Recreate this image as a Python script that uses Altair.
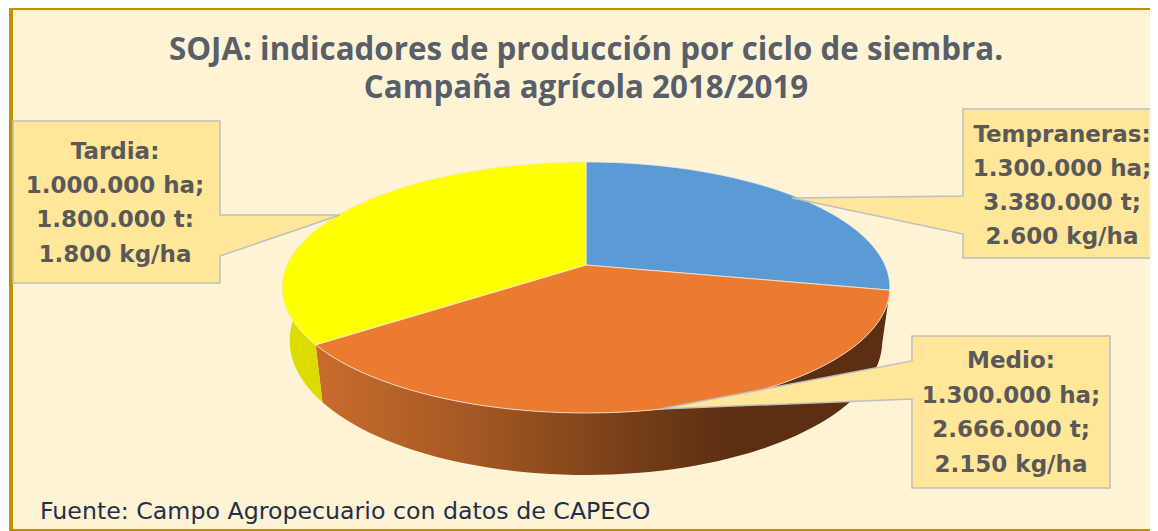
import math
import altair as alt

# Values
categories = ["Tempraneras", "Medio", "Tardia"]
shares = [28.2, 36.8, 35.0]
slice_colors = ["#5B9BD5", "#EB7B31", "#FFFF00"]
title_lines = ["SOJA: indicadores de producción por ciclo de siembra.", "Campaña agrícola 2018/2019"]
label_tardia = ["Tardia:", "1.000.000 ha;", "1.800.000 t:", "1.800 kg/ha"]
label_temprana = ["Tempraneras:", "1.300.000 ha;", "3.380.000 t;", "2.600 kg/ha"]
label_medio = ["Medio:", "1.300.000 ha;", "2.666.000 t;", "2.150 kg/ha"]
source_text = "Fuente: Campo Agropecuario con datos de CAPECO"

W, H = 1142, 523
OX, OY = 8, 8
CX, CY, RAD, K, P = 586.0, 265.0, 299.0, 121.5, 0.179
TITLE_FONT = "Open Sans"
BODY_FONT = "DejaVu Sans"


def rim(theta):
    t = math.radians(theta)
    u, v = math.sin(t), math.cos(t)
    d = 1 + P * v
    return (CX + RAD * u / d, CY - K * v / d)


def rim_low(theta):
    x, y = rim(theta)
    v = math.cos(math.radians(theta))
    return (CX + (x - CX) * 0.975, y + 51 - 11 * v)


def arc(a, b, f=rim, step=2.0):
    n = max(2, int(abs(b - a) / step))
    return [list(f(a + (b - a) * i / n)) for i in range(n + 1)]


def poly(points):
    pts = [list(p) for p in points]
    if pts[0] != pts[-1]:
        pts.append(pts[0])
    return {"type": "Feature", "properties": {}, "geometry": {"type": "Polygon", "coordinates": [pts]}}


PROJ = alt.Projection(type="identity", scale=1, translate=[-OX, -OY])


def shape(points, **style):
    return alt.Chart(alt.Data(values=[poly(points)])).mark_geoshape(**style).project(**PROJ.to_dict())


def text_block(lines, cx, y0, step, size, color, weight="bold", font=BODY_FONT, align="center"):
    layers = []
    for i, line in enumerate(lines):
        layers.append(
            alt.Chart(alt.Data(values=[{"t": line}]))
            .mark_text(fontSize=size, fontWeight=weight, font=font, color=color, align=align, baseline="middle")
            .encode(text="t:N", x=alt.value(cx - OX), y=alt.value(y0 + i * step - OY))
        )
    return layers


edges = [0.0]
for s in shares:
    edges.append(edges[-1] + s / sum(shares) * 360.0)

layers = [
    shape([(11, 8), (1170, 8), (1170, 531), (11, 531)], fill="#FFF3D6", stroke="#BF9000", strokeWidth=4),
]

# side walls
wall_gradient = alt.LinearGradient(
    gradient="linear", x1=0, x2=1, y1=0, y2=0,
    stops=[
        alt.GradientStop(color="#C86C2D", offset=0),
        alt.GradientStop(color="#A85A24", offset=0.25),
        alt.GradientStop(color="#6A3814", offset=0.62),
        alt.GradientStop(color="#5C2E12", offset=0.72),
        alt.GradientStop(color="#5C2E12", offset=1),
    ],
)
layers.append(shape(arc(edges[1], edges[2]) + arc(edges[2], edges[1], rim_low), fill=wall_gradient))
layers.append(shape(arc(edges[2], 276) + arc(276, edges[2], rim_low), fill="#DCDC00"))

# top faces
for i, col in enumerate(slice_colors):
    layers.append(shape([(CX, CY)] + arc(edges[i], edges[i + 1]), fill=col, stroke="#F3EADF", strokeWidth=0.8))

# callouts
callout = dict(fill="#FFE699", stroke="#BFBFBF", strokeWidth=1.5)
layers.append(shape([(13, 121), (220, 121), (220, 215), (340, 215), (220, 256), (220, 283), (13, 283)], **callout))
layers.append(shape([(963, 109), (1170, 109), (1170, 258), (963, 258), (963, 234), (792, 198), (963, 196)], **callout))
layers.append(shape([(912, 336), (1110, 336), (1110, 488), (912, 488), (912, 399), (660, 409), (912, 361)], **callout))

layers += text_block(title_lines, 586, 51, 38, 31.3, "#595F69", font=TITLE_FONT)
layers += text_block(label_tardia, 115, 152, 34.2, 23, "#595959")
layers += text_block(label_temprana, 1062, 135, 34, 23, "#595959")
layers += text_block(label_medio, 1011, 361, 34.5, 23, "#595959")
layers += text_block([source_text], 40, 512, 0, 23.7, "#22314A", weight="normal", align="left")

chart = (
    alt.layer(*layers)
    .properties(width=W, height=H, padding=0, background="white", autosize=alt.AutoSizeParams(type="none"))
    .configure_view(stroke=None)
)
chart.save("out.html", embed_options={"renderer": "svg", "actions": False})
